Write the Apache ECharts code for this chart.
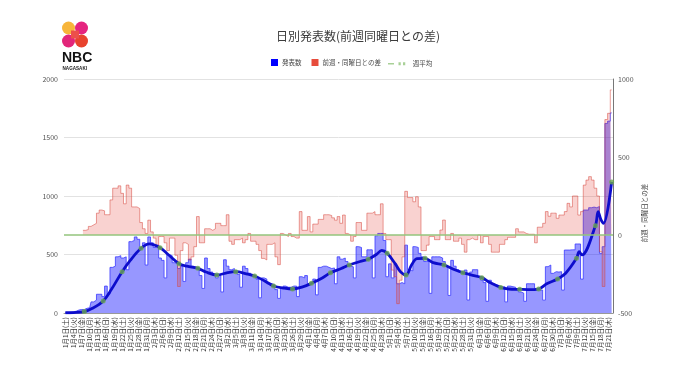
<!DOCTYPE html>
<html><head><meta charset="utf-8">
<script src="https://cdn.jsdelivr.net/npm/echarts@6/dist/echarts.min.js"></script>
<style>html,body{margin:0;padding:0;background:#fff}#c{width:680px;height:382px}</style>
</head><body><div id="c"></div>
<script>
// ---- data ----
const startYear = 2022, dayCount = 203; // 1月1日 .. 7月22日
const weekdays = ['日','月','火','水','木','金','土'];
const categories = [];
for (let i = 0; i < dayCount; i++) {
  const d = new Date(startYear, 0, 1 + i);
  categories.push((d.getMonth() + 1) + '月' + d.getDate() + '日(' + weekdays[d.getDay()] + ')');
}
const reported = [
3,4,6,10,15,25,30,30,40,45,95,110,160,160,140,
230,160,390,400,480,490,470,
480,370,610,620,650,630,560,
600,410,650,600,560,580,470,
450,300,500,490,430,420,380,
400,270,430,460,400,380,370,
320,210,470,380,350,330,300,
320,180,455,400,370,380,360,
330,220,400,380,340,320,310,
290,130,300,290,250,250,240,
200,125,210,230,220,220,230,
230,140,310,300,320,250,260,
290,155,390,400,400,390,380,
385,250,480,460,470,440,400,
395,300,567,560,480,480,540,
540,300,660,680,680,620,310,
420,300,420,250,260,250,580,
370,360,567,560,510,480,440,
440,168,480,480,480,470,440,
400,150,450,400,370,350,340,
367,111,350,370,370,310,282,
260,100,280,250,240,230,220,
225,95,230,225,220,200,180,
170,100,250,250,250,210,196,
196,110,396,410,339,353,350,
353,196,538,538,540,540,590,
590,290,880,880,900,905,900,
910,510,567,1620,1640,1710];
const weekDiff = [
null,null,null,null,null,null,null,
30,35,55,65,75,140,160,155,130,130,225,300,300,315,267,200,320,300,180,180,170,80,
40,10,95,20,-20,-75,-10,-10,-50,-100,-20,-20,-130,-330,-100,-50,-60,-160,-140,-75,118,
-50,-50,40,40,30,40,75,75,60,60,130,-40,-60,-30,-30,-20,-50,-30,10,-40,-40,
-60,-100,-150,-160,-60,-60,-50,-140,-190,10,0,-10,10,-10,-20,-20,150,30,30,118,20,
70,70,100,100,130,130,125,110,95,118,75,128,10,0,-40,-10,80,80,30,30,140,
140,150,130,130,200,10,-30,-30,-225,-267,-440,-290,-140,280,240,240,213,245,180,-100,-100,
-65,-10,-10,-30,-30,32,96,-30,-30,10,-40,-40,-20,-60,-110,-30,-20,-30,-30,0,-50,
-10,-10,-60,-110,-110,-110,-60,-60,-30,-15,-15,-15,40,20,20,10,5,5,5,-50,50,
50,75,150,120,140,140,107,128,128,150,203,180,250,250,128,150,320,352,374,352,300,
250,-107,-330,740,780,930];
const avgDays = [0,3,7,10,14,17,21,24,28,31,35,38,42,45,49,52,56,60,63,67,70,74,77,81,84,88,91,95,98,102,105,109,112,115,117,119,122,124,126,128,130,133,136,140,144,147,150,154,157,161,164,168,171,175,178,182,185,189,190,191,196,197,198,199,202];
const avgValues = [2,4,12,40,103,200,353,450,553,590,558,500,422,400,382,350,325,345,353,335,316,270,231,212,205,225,254,300,343,380,410,440,459,500,535,510,420,350,325,410,465,467,430,410,370,345,325,302,260,219,205,202,200,205,250,291,340,467,524,496,746,866,800,766,1120];
const dotDays = [7,14,21,28,35,42,49,56,63,70,77,84,91,98,105,112,119,126,133,140,147,154,161,168,175,182,189,196,202];
const dotValues = [12,103,353,553,558,422,382,325,353,316,231,205,254,343,410,459,510,325,467,410,345,302,219,202,205,291,467,746,1120];
const leftTicks = {min:0, max:2000, step:500};
const rightTicks = {min:-500, max:1000, step:500};

const FONT = '"Noto Sans CJK JP","Noto Sans",sans-serif';
const chart = echarts.init(document.getElementById('c'), null, {renderer:'canvas'});
const option = {
  animation:false,
  backgroundColor:'#ffffff',
  textStyle:{fontFamily:FONT},
  title:{text:'日別発表数(前週同曜日との差)', left:271, top:25,
    textStyle:{fontSize:12, fontWeight:'normal', color:'#3c3c3c', fontFamily:FONT}},
  legend:[
    {left:266, top:54, itemWidth:7, itemHeight:7, itemGap:10, icon:'rect',
     textStyle:{fontSize:6.5, color:'#444', padding:[0,0,0,-1]},
     data:['発表数','前週・同曜日との差']},
    {left:383, top:55.5, itemWidth:22, itemHeight:3, itemGap:6,
     textStyle:{fontSize:6.5, color:'#444'},
     data:[{name:'週平均', icon:'path://M0,1h8v2h-8z M14,0h3v4h-3z M20,0h3v4h-3z', itemStyle:{color:'#93c47d'}}]}
  ],
  grid:{left:64, right:67, top:79, bottom:69, containLabel:false},
  xAxis:{type:'category', data:categories, boundaryGap:true,
    axisLine:{lineStyle:{color:'#999', width:1}}, axisTick:{show:false},
    axisLabel:{rotate:90, interval:2, fontSize:6.5, color:'#333', margin:4}},
  yAxis:[
    {type:'value', min:leftTicks.min, max:leftTicks.max, interval:leftTicks.step,
     axisLine:{show:false}, axisTick:{show:false},
     axisLabel:{fontSize:7, color:'#555', margin:6, formatter:v=>String(v)},
     splitLine:{lineStyle:{color:'#e2e2e2', width:1}}},
    {type:'value', min:rightTicks.min, max:rightTicks.max, interval:rightTicks.step, position:'right',
     axisLine:{show:true, lineStyle:{color:'#777'}}, axisTick:{show:false},
     axisLabel:{fontSize:7, color:'#555', margin:5, formatter:v=>String(v)},
     splitLine:{show:false}}
  ],
  series:[
    {name:'発表数', type:'line', step:'middle', data:reported, symbol:'none',
     lineStyle:{width:0.8, color:'#3a3aff'}, itemStyle:{color:'#0000ff'},
     areaStyle:{color:'rgba(0,0,255,0.58)', origin:'start'}, z:1},
    {name:'前週・同曜日との差', type:'line', step:'middle', yAxisIndex:1, data:weekDiff, symbol:'none',
     lineStyle:{width:0.8, color:'rgba(215,70,60,0.65)'}, itemStyle:{color:'#e74c3c'},
     areaStyle:{color:'rgba(230,60,50,0.33)', origin:0}, z:2,
     markLine:{silent:true, symbol:'none', label:{show:false},
       lineStyle:{color:'#93c47d', width:1.5, type:'solid'}, data:[{yAxis:0}]}},
    {name:'7日平均', type:'line', data:avgDays.map((d,k)=>[d, avgValues[k]]), smooth:0.35,
     symbol:'none', lineStyle:{width:2.8, color:'#0d0dcc'}, itemStyle:{color:'#0d0dcc'}, z:3},
    {name:'週平均', type:'scatter', data:dotDays.map((d,k)=>[d, dotValues[k]]),
     symbol:'circle', symbolSize:5, itemStyle:{color:'#6aa84f'}, z:4}
  ],
  graphic:[
    {type:'circle', shape:{cx:68.5, cy:28, r:6.5}, style:{fill:'#f7b53a'}},
    {type:'circle', shape:{cx:81.5, cy:28, r:6.5}, style:{fill:'#e5247f'}},
    {type:'circle', shape:{cx:68.5, cy:41, r:6.5}, style:{fill:'#e2267a'}},
    {type:'circle', shape:{cx:81.5, cy:41, r:6.5}, style:{fill:'#e8432d'}},
    {type:'rect', shape:{x:71, y:30.5, width:8, height:8}, style:{fill:'#ec4f4a'}},
    {type:'text', left:62, top:51, style:{text:'NBC', fontSize:14, fontWeight:'bold', fill:'#111', fontFamily:'"Liberation Sans",Arial,sans-serif'}},
    {type:'text', left:62.5, top:66, style:{text:'NAGASAKI', fontSize:4.6, fontWeight:'bold', fill:'#222', fontFamily:'"Liberation Sans",Arial,sans-serif'}},
    {type:'text', x:645, y:213, rotation:Math.PI/2,
     style:{text:'前週・同曜日との差', fontSize:6.5, fill:'#444', textAlign:'center', textVerticalAlign:'middle', fontFamily:FONT}}
  ]
};
chart.setOption(option);
</script></body></html>
